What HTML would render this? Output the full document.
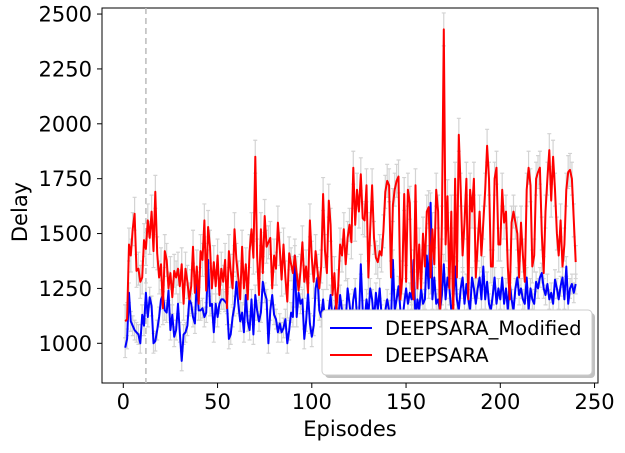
<!DOCTYPE html>
<html><head><meta charset="utf-8"><style>
body{margin:0;background:#fff;font-family:"Liberation Sans","DejaVu Sans",sans-serif;}
svg text{font-family:"DejaVu Sans","Liberation Sans",sans-serif;}
</style></head><body>
<svg id="c" width="625" height="448">
<rect x="102" y="8" width="496" height="375" fill="none" stroke="#000" stroke-width="1"/>
<g id="grid"></g>
<g id="errs"></g>
<g id="lines"></g>
<g id="legend">
<rect x="325" y="313" width="270" height="65" rx="4" fill="#999" opacity="0.6"/>
<rect x="322" y="310" width="270" height="65" rx="4" fill="#fff" stroke="#ccc"/>
<line x1="330" y1="328" x2="372" y2="328" stroke="blue" stroke-width="2"/>
<text x="385" y="335" font-size="19.5">DEEPSARA_Modified</text>
<line x1="330" y1="355" x2="372" y2="355" stroke="red" stroke-width="2"/>
<text x="385" y="362" font-size="19.5">DEEPSARA</text>
</g>
<text x="350" y="436" font-size="21" text-anchor="middle">Episodes</text>
<text x="27" y="212" font-size="21" text-anchor="middle" transform="rotate(-90 27 212)">Delay</text>
</svg>
<script>
const red=[1100,1110,1450,1400,1520,1590,1330,1340,1280,1300,
1470,1430,1560,1480,1600,1420,1690,1410,1300,1360,
1160,1420,1380,1250,1320,1210,1330,1300,1340,1260,
1360,1180,1340,1280,1200,1260,1440,1230,1350,1180,
1420,1380,1560,1240,1530,1440,1250,1370,1260,1400,
1220,1340,1280,1380,1160,1420,1330,1250,1520,1380,
1300,1200,1440,1250,1360,1200,1420,1520,1390,1850,
1400,1220,1520,1320,1580,1440,1460,1480,1250,1400,
1340,1550,1430,1290,1450,1300,1190,1410,1360,1320,
1400,1320,1240,1330,1460,1280,1350,1230,1560,1390,
1280,1420,1330,1250,1350,1680,1420,1320,1650,1540,
1220,1320,1150,1260,1450,1400,1520,1360,1480,1540,
1460,1800,1540,1700,1600,1770,1570,1560,1720,1300,
1520,1720,1480,1390,1370,1420,1400,1510,1690,1740,
1720,1300,1630,1700,1740,1760,1200,1300,1680,1280,
1700,1640,1250,1200,1720,1250,1450,1250,1500,1350,
1600,1620,1300,1520,1360,1700,1600,1100,1550,2430,
1450,1670,1250,1600,1100,1750,1300,1950,1700,1400,
1550,1750,1200,1700,1600,1750,1300,1450,1600,1400,
1550,1700,1900,1750,1350,1350,1750,1800,1450,1450,
1700,1550,1600,1350,1200,1550,1600,1550,1500,1300,
1550,1400,1280,1700,1800,1720,1350,1400,1750,1780,
1800,1500,1320,1600,1750,1880,1650,1850,1700,1500,
1400,1560,1350,1450,1700,1780,1790,1750,1560,1370];
const blue=[980,1020,1230,1100,1080,1060,1050,1040,1000,1130,
1080,1230,1120,1210,1170,1000,1010,1060,1120,1200,
1220,1150,1140,1240,1060,1130,1030,1060,1180,1050,
920,1040,1050,1080,1200,1180,1120,1090,1280,1150,
1150,1160,1120,1140,1380,1170,1180,1050,1180,1120,
1180,1200,1200,1190,1180,1020,1040,1120,1170,1280,
1180,1100,1140,1050,1220,1100,1060,1200,1040,1220,
1150,1100,1140,1280,1230,1200,1000,1150,1220,1130,
1110,1050,1090,1050,1070,1110,1000,1060,1140,1120,
1400,1120,1230,1180,1200,1020,1100,1230,1090,1030,
1080,1250,1300,1150,1120,1200,1100,1080,1150,1220,
1100,1150,1180,1100,1220,1150,1130,1100,1250,1180,
1100,1200,1250,1120,1100,1360,1150,1100,1200,1130,
1250,1200,1100,1230,1150,1250,1130,1100,1150,1200,
1150,1100,1380,1150,1200,1260,1150,1100,1180,1250,
1180,1230,1200,1380,1100,1200,1150,1250,1180,1200,
1400,1250,1640,1200,1300,1180,1200,1150,1220,1360,
1200,1300,1250,1150,1180,1350,1200,1150,1250,1300,
1180,1270,1200,1150,1300,1250,1180,1250,1300,1200,
1350,1200,1280,1180,1150,1220,1300,1180,1250,1200,
1300,1180,1250,1150,1280,1200,1150,1250,1300,1220,
1250,1200,1180,1300,1150,1250,1200,1180,1280,1250,
1300,1320,1250,1220,1270,1200,1230,1180,1290,1250,
1200,1260,1300,1200,1350,1180,1250,1270,1230,1270];
const xTicks=[0,50,100,150,200,250];
const yTicks=[1000,1250,1500,1750,2000,2250,2500];
const redErr=75, blueErr=45, markerEpisode=12;
const NS="http://www.w3.org/2000/svg";
const X=e=>123.3+e*1.885, Y=v=>343.3-(v-1000)*0.2195;
function mk(tag,attrs,parent){const el=document.createElementNS(NS,tag);for(const k in attrs)el.setAttribute(k,attrs[k]);parent.appendChild(el);return el;}
const g=document.getElementById('grid'),ge=document.getElementById('errs'),gl=document.getElementById('lines');
xTicks.forEach(t=>{
 const l=mk('line',{x1:X(t),x2:X(t),y1:383,y2:388,stroke:'#000'},g);
 
 
 const tx=mk('text',{x:X(t),y:409,'font-size':21,'text-anchor':'middle'},g);tx.textContent=t;
 
 
});
yTicks.forEach(t=>{
 const l=mk('line',{x1:97,x2:102,y1:Y(t),y2:Y(t),stroke:'#000'},g);
 
 
 const tx=mk('text',{x:92,y:Y(t)+7.5,'font-size':21,'text-anchor':'end'},g);tx.textContent=t;
 
 
});
const vl=mk('line',{x1:X(markerEpisode),x2:X(markerEpisode),y1:8,y2:383,stroke:'#bbb','stroke-width':1.5,'stroke-dasharray':'6,4'},g);


function series(data,err,color,name){
 let d='';
 data.forEach((v,i)=>{
  const x=X(i+1);
  const eb=mk('path',{d:`M${x},${Y(v-err)}V${Y(v+err)}M${x-2},${Y(v-err)}h4M${x-2},${Y(v+err)}h4`,stroke:'#d3d3d3','stroke-width':1.2,fill:'none'},ge);
  
  
  d+=(i?'L':'M')+x.toFixed(1)+','+Y(v).toFixed(1);
 });
 const p=mk('path',{d,stroke:color,'stroke-width':2,fill:'none','stroke-linejoin':'round'},gl);
 
 
}
series(blue,blueErr,'blue','deepsara-modified');
series(red,redErr,'red','deepsara');
</script>
</body></html>
